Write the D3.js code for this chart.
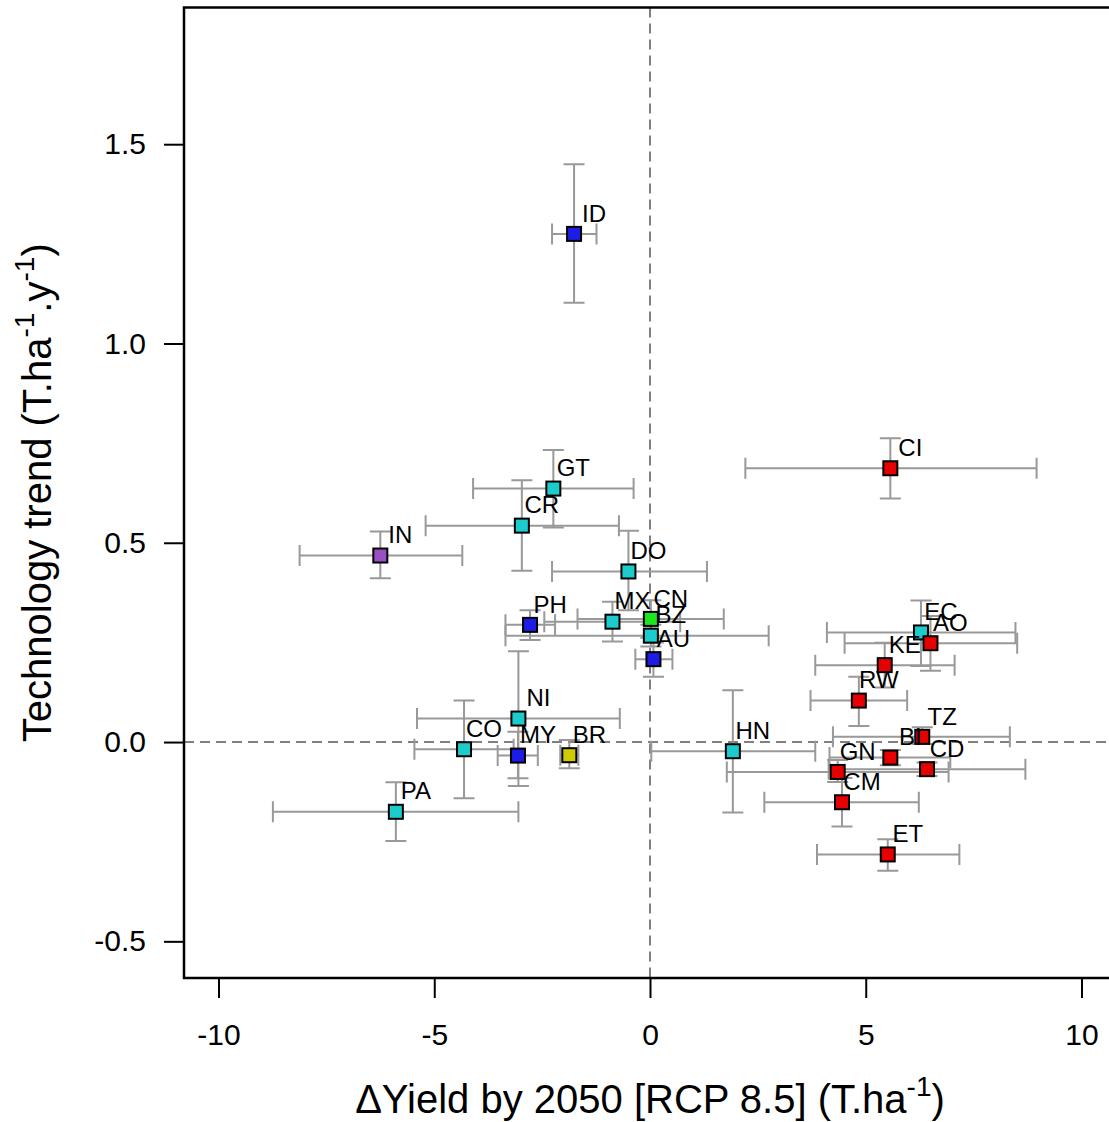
<!DOCTYPE html>
<html>
<head>
<meta charset="utf-8">
<script src="https://cdn.jsdelivr.net/npm/d3@7"></script>
<style>
  body { margin: 0; background: #fff; }
  svg { display: block; font-family: 'Liberation Sans', Arial, sans-serif; }
</style>
</head>
<body>
<div id="container"></div>
<script>
// country codes and their region group
const codes = ['IN', 'GT', 'CR', 'DO', 'MX', 'BZ', 'HN', 'NI', 'CO', 'PA', 'EC',
  'ID', 'PH', 'AU', 'MY', 'CN', 'BR',
  'CI', 'AO', 'KE', 'RW', 'TZ', 'BI', 'GN', 'CD', 'CM', 'ET'];
const groups = ['india', 'latam', 'latam', 'latam', 'latam', 'latam', 'latam', 'latam', 'latam', 'latam', 'latam',
  'asia', 'asia', 'asia', 'asia', 'china', 'brazil',
  'africa', 'africa', 'africa', 'africa', 'africa', 'africa', 'africa', 'africa', 'africa', 'africa'];

// delta yield by 2050 (x) with interval
const dYield = [-6.25, -2.24, -2.97, -0.50, -0.87, 0.02, 1.92, -3.05, -4.31, -5.89, 6.28,
  -1.76, -2.78, 0.08, -3.06, 0.02, -1.87,
  5.57, 6.50, 5.44, 4.84, 6.31, 5.57, 4.35, 6.42, 4.45, 5.51];
const dYieldLo = [-8.12, -4.10, -5.20, -2.27, -2.45, -3.35, 0.03, -5.40, -5.46, -8.74, 4.10,
  -2.27, -3.35, -0.34, -3.53, -1.68, -2.08,
  2.21, 4.51, 3.83, 3.72, 4.24, 4.16, 1.78, 4.14, 2.65, 3.87];
const dYieldHi = [-4.35, -0.38, -0.72, 1.32, 0.70, 2.75, 3.83, -0.70, -3.16, -3.05, 8.47,
  -1.24, -2.20, 0.52, -2.60, 1.71, -1.66,
  8.96, 8.51, 7.06, 5.96, 8.34, 6.96, 6.92, 8.70, 6.23, 7.17];

// technology trend (y) with interval
const trend = [0.468, 0.636, 0.543, 0.428, 0.302, 0.267, -0.023, 0.059, -0.018, -0.175, 0.275,
  1.275, 0.294, 0.208, -0.034, 0.309, -0.033,
  0.687, 0.248, 0.193, 0.104, 0.013, -0.039, -0.075, -0.068, -0.151, -0.282];
const trendLo = [0.411, 0.538, 0.430, 0.331, 0.252, 0.240, -0.177, -0.110, -0.141, -0.248, 0.191,
  1.102, 0.256, 0.164, -0.091, 0.262, -0.066,
  0.611, 0.179, 0.137, 0.040, -0.005, -0.058, -0.100, -0.085, -0.212, -0.323];
const trendHi = [0.528, 0.733, 0.657, 0.530, 0.352, 0.294, 0.130, 0.228, 0.104, -0.101, 0.355,
  1.450, 0.331, 0.250, 0.026, 0.356, 0.005,
  0.762, 0.316, 0.249, 0.164, 0.037, -0.020, -0.045, -0.051, -0.090, -0.244];

const xTicks = [-10, -5, 0, 5, 10];
const yTicks = [-0.5, 0.0, 0.5, 1.0, 1.5];

const WIDTH = 1109;
const HEIGHT = 1122;
const LEFT = 184, RIGHT = 1116, TOP = 7.5, BOTTOM = 978;

const groupColor = {
  india: '#9a4fc4',
  latam: '#1ccccc',
  asia: '#1c1ce6',
  china: '#1ee61e',
  brazil: '#cccc00',
  africa: '#e60000',
};

const data = codes.map((c, i) => ({
  code: c,
  group: groups[i],
  x: dYield[i], x0: dYieldLo[i], x1: dYieldHi[i],
  y: trend[i], y0: trendLo[i], y1: trendHi[i],
}));

const x = d3.scaleLinear().domain([-10.8, 10.8]).range([LEFT, RIGHT]);
const y = d3.scaleLinear().domain([-0.592, 1.843]).range([BOTTOM, TOP]);

const svg = d3
  .select('#container')
  .append('svg')
  .attr('width', WIDTH)
  .attr('height', HEIGHT);

// reference lines
svg.append('line')
  .attr('x1', LEFT).attr('x2', RIGHT)
  .attr('y1', y(0)).attr('y2', y(0))
  .attr('stroke', '#808080').attr('stroke-width', 2)
  .attr('stroke-dasharray', '10,6');
svg.append('line')
  .attr('x1', x(0)).attr('x2', x(0))
  .attr('y1', TOP).attr('y2', BOTTOM)
  .attr('stroke', '#808080').attr('stroke-width', 2)
  .attr('stroke-dasharray', '10,6');

// error bars
const CAP = 10.5;
const bars = svg.append('g')
  .attr('stroke', '#999999')
  .attr('stroke-width', 2)
  .attr('fill', 'none');

bars.selectAll('path.h')
  .data(data)
  .enter()
  .append('path')
  .attr('class', 'h')
  .attr('d', (d) => {
    const a = x(d.x0), b = x(d.x1), c = y(d.y);
    return `M${a},${c}H${b}M${a},${c - CAP}V${c + CAP}M${b},${c - CAP}V${c + CAP}`;
  });

bars.selectAll('path.v')
  .data(data)
  .enter()
  .append('path')
  .attr('class', 'v')
  .attr('d', (d) => {
    const a = y(d.y0), b = y(d.y1), c = x(d.x);
    return `M${c},${a}V${b}M${c - CAP},${a}H${c + CAP}M${c - CAP},${b}H${c + CAP}`;
  });

// points
const SIZE = 14;
svg.append('g')
  .selectAll('rect')
  .data(data)
  .enter()
  .append('rect')
  .attr('x', (d) => x(d.x) - SIZE / 2)
  .attr('y', (d) => y(d.y) - SIZE / 2)
  .attr('width', SIZE)
  .attr('height', SIZE)
  .attr('fill', (d) => groupColor[d.group])
  .attr('stroke', '#000')
  .attr('stroke-width', 2);

// labels
svg.append('g')
  .selectAll('text')
  .data(data)
  .enter()
  .append('text')
  .attr('x', (d) => x(d.x) + 20)
  .attr('y', (d) => y(d.y) - 21)
  .attr('dy', '0.36em')
  .attr('text-anchor', 'middle')
  .attr('font-size', 24)
  .attr('fill', '#000')
  .text((d) => d.code);

// axes
const xAxis = svg.append('g')
  .attr('transform', `translate(0, ${BOTTOM})`)
  .call(d3.axisBottom(x).tickValues(xTicks).tickSize(20).tickPadding(26).tickFormat(d3.format('d')));
const yAxis = svg.append('g')
  .attr('transform', `translate(${LEFT}, 0)`)
  .call(d3.axisLeft(y).tickValues(yTicks).tickSize(20).tickPadding(18).tickFormat(d3.format('.1f')));

[xAxis, yAxis].forEach((g) => {
  g.select('.domain').remove();
  g.selectAll('.tick line').attr('stroke', '#000').attr('stroke-width', 2);
  g.selectAll('.tick text')
    .attr('font-family', "'Liberation Sans', Arial, sans-serif")
    .attr('font-size', 30)
    .attr('fill', '#000');
});
yAxis.selectAll('.tick text').text((d) => d3.format('.1f')(d).replace('−', '-'));
xAxis.selectAll('.tick text').text((d) => String(d));

// plot box
svg.append('rect')
  .attr('x', LEFT)
  .attr('y', TOP)
  .attr('width', RIGHT - LEFT)
  .attr('height', BOTTOM - TOP)
  .attr('fill', 'none')
  .attr('stroke', '#000')
  .attr('stroke-width', 2.5);

// axis titles
const xTitle = svg.append('text')
  .attr('x', (LEFT + RIGHT) / 2)
  .attr('y', 1113)
  .attr('text-anchor', 'middle')
  .attr('font-size', 40);
xTitle.append('tspan').text('\u0394Yield by 2050 [RCP 8.5] (T.ha');
xTitle.append('tspan').attr('font-size', 28).attr('dy', -17).text('-1');
xTitle.append('tspan').attr('dy', 17).text(')');

const yTitle = svg.append('text')
  .attr('transform', `translate(51, ${(TOP + BOTTOM) / 2}) rotate(-90)`)
  .attr('text-anchor', 'middle')
  .attr('font-size', 40);
yTitle.append('tspan').text('Technology trend (T.ha');
yTitle.append('tspan').attr('font-size', 28).attr('dy', -17).text('-1');
yTitle.append('tspan').attr('dy', 17).text('.y');
yTitle.append('tspan').attr('font-size', 28).attr('dy', -17).text('-1');
yTitle.append('tspan').attr('dy', 17).text(')');
</script>
</body>
</html>
